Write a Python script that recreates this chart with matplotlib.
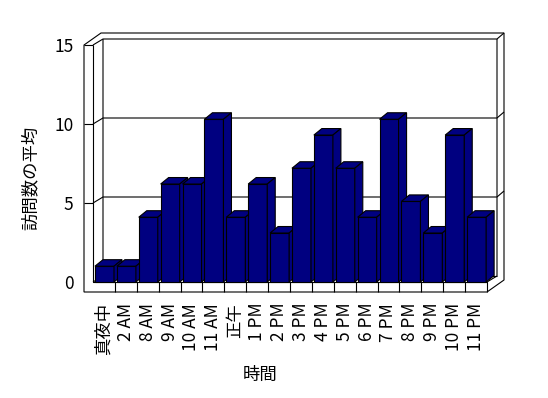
import matplotlib
matplotlib.use("Agg")
import matplotlib.pyplot as plt
from matplotlib.patches import Polygon
import numpy as np

plt.rcParams['font.family'] = ['Noto Sans CJK JP', 'DejaVu Sans']

hours = ["真夜中", "2 AM", "8 AM", "9 AM", "10 AM", "11 AM", "正午", "1 PM", "2 PM",
         "3 PM", "4 PM", "5 PM", "6 PM", "7 PM", "8 PM", "9 PM", "10 PM", "11 PM"]
visits = [1.0, 1.0, 4.1, 6.2, 6.2, 10.3, 4.1, 6.2, 3.1,
          7.2, 9.3, 7.2, 4.1, 10.3, 5.1, 3.1, 9.3, 4.1]
yticks = [0, 5, 10, 15]

W, H = 548, 398
fig = plt.figure(figsize=(W / 100, H / 100), dpi=100)
ax = fig.add_axes([93 / W, (H - 282) / H, 394 / W, 237 / H])
n = len(hours)
ymax = 15
ax.set_xlim(0, n)
ax.set_ylim(0, ymax)
for s in ax.spines.values():
    s.set_visible(False)
ax.patch.set_visible(False)

# pixel sizes of the fake 3d box, turned into data units
sx = 394 / n
sy = 237 / ymax
dxw, dyw = 10 / sx, 6 / sy      # depth of back wall
dxo, dyo = 17 / sx, 12 / sy     # outer depth
tl, tf = 9 / sx, 10 / sy        # wall / floor thickness
bdx, bdy = 8 / sx, 6.5 / sy     # bar depth

lw = 0.8
kw = dict(color="black", lw=lw, clip_on=False, solid_capstyle="butt")

def line(xs, ys):
    ax.plot(xs, ys, **kw)

# outer outline
outline = [(-tl, -tf), (-tl, ymax), (-tl + dxo, ymax + dyo), (n + dxo, ymax + dyo),
           (n + dxo, -tf + dyo), (n, -tf)]
ax.add_patch(Polygon(outline, closed=True, facecolor="white", edgecolor="black",
                     lw=lw, clip_on=False, zorder=1))
line([-tl, 0], [ymax, ymax])
line([0, 0, n, n], [ymax, 0, 0, -tf])
line([0, dxw, n + dxw, n + dxo], [ymax, ymax + dyw, ymax + dyw, ymax + dyo])
line([n + dxw, n + dxw, n], [ymax + dyw, dyw, 0])
line([dxw, dxw, 0], [ymax + dyw, dyw, 0])
line([dxw, n + dxw], [dyw, dyw])

# gridlines and ticks
for v in yticks[1:-1]:
    line([0, dxw, n + dxw, n + dxo], [v, v + dyw, v + dyw, v + dyo])
    line([-tl, 0], [v, v])
for i in range(1, n):
    line([i, i], [0, -tf])

# bars
x0 = np.arange(n) + 0.09
bw = 0.87
for x, v in zip(x0, visits):
    faces = [
        [(x, 0), (x + bw, 0), (x + bw, v), (x, v)],
        [(x, v), (x + bw, v), (x + bw + bdx, v + bdy), (x + bdx, v + bdy)],
        [(x + bw, 0), (x + bw + bdx, bdy), (x + bw + bdx, v + bdy), (x + bw, v)],
    ]
    for f in faces:
        ax.add_patch(Polygon(f, closed=True, facecolor="#000080", edgecolor="black",
                             lw=lw, clip_on=False, zorder=3))

ax.set_xticks(np.arange(n) + 0.5)
ax.set_xticklabels(hours, rotation=90, fontsize=12.5)
ax.set_yticks(yticks)
ax.set_yticklabels([str(v) for v in yticks], fontsize=12.5)
ax.tick_params(axis="x", length=0, pad=15)
ax.tick_params(axis="y", length=0, pad=14)

ax.set_xlabel("時間", fontsize=12.5)
ax.set_ylabel("訪問数の平均", fontsize=12.5)
ax.xaxis.set_label_coords((260 - 93) / 394, (282 - 366) / 237)
ax.yaxis.set_label_coords((40 - 93) / 394, (282 - 178) / 237)

fig.savefig("out.png", dpi=100)
